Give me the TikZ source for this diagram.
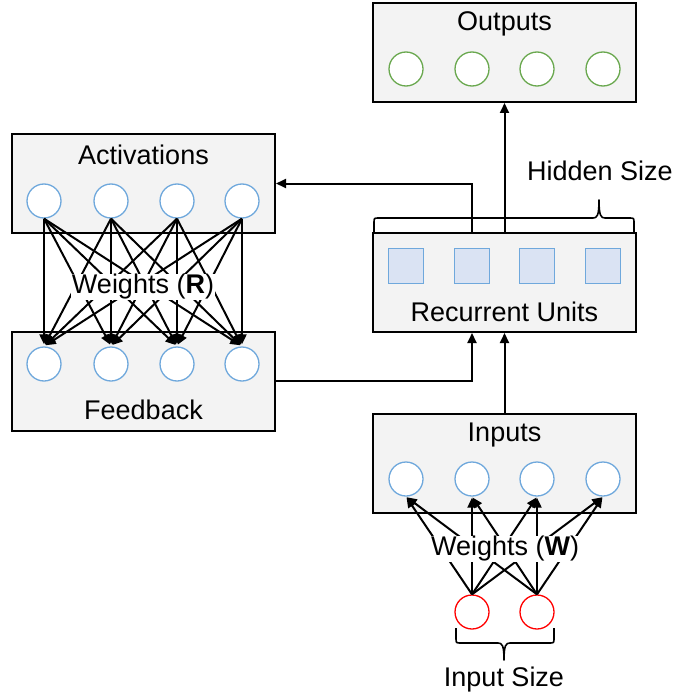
\documentclass[tikz,border=0pt]{standalone}
\usepackage{fontspec}
\setmainfont{Liberation Sans}
\usetikzlibrary{arrows.meta,calc}
\definecolor{boxfill}{HTML}{F3F3F3}
\definecolor{cblue}{HTML}{6FA8DC}
\definecolor{sqfill}{HTML}{DAE3F3}
\definecolor{cgreen}{HTML}{6AA84F}
\definecolor{cred}{HTML}{FF0000}
\begin{document}
\begin{tikzpicture}[x=1pt,y=-1pt,
  every node/.style={font=\fontsize{27}{32}\selectfont},
  panel/.style={draw=black,fill=boxfill,line width=2pt,minimum width=263pt,minimum height=99pt,inner sep=0pt},
  unitc/.style={circle,draw=cblue,fill=white,line width=1.3pt,minimum size=34pt,inner sep=0pt},
  outc/.style={circle,draw=cgreen,fill=white,line width=1.3pt,minimum size=34pt,inner sep=0pt},
  inc/.style={circle,draw=cred,fill=white,line width=1.3pt,minimum size=34pt,inner sep=0pt},
  unitsq/.style={rectangle,draw=cblue,fill=sqfill,line width=1.3pt,minimum size=35pt,inner sep=0pt},
  arr/.style={line width=2pt,-{Triangle[length=10pt,width=9pt]}},
  bracel/.style={line width=1.6pt,line join=round},
  lbl/.style={inner sep=0pt}
]
\useasboundingbox (0,0) rectangle (675,698);
% panels
\node[panel] (act) at (143.5,183.5) {};
\node[panel] (fb) at (143.5,381) {};
\node[panel] (out) at (504.5,52.5) {};
\node[panel] (rec) at (504.5,282.5) {};
\node[panel] (inp) at (504.5,463.5) {};
% titles
\node[lbl] (tact) at (143.5,155) {Activations};
\node[lbl] (tfb) at (143.5,410) {Feedback};
\node[lbl] (tout) at (504.5,24) {Outputs};
\node[lbl] (trec) at (504.5,312) {Recurrent Units};
\node[lbl] (tinp) at (504.5,435) {Inputs};
% units
\foreach \i/\x in {1/44,2/111,3/177,4/242}{
  \node[unitc] (a\i) at (\x,201) {};
  \node[unitc] (f\i) at (\x,364) {};
}
\foreach \i/\x in {1/406,2/472,3/537,4/603}{
  \node[outc] (o\i) at (\x,69) {};
  \node[unitsq] (s\i) at (\x,266) {};
  \node[unitc] (n\i) at (\x,479) {};
}
\node[inc] (r1) at (472,612) {};
\node[inc] (r2) at (537,612) {};
% weights R
\foreach \i in {1,...,4}{
  \foreach \j in {1,...,4}{
    \draw[arr,shorten >=2pt] (a\i.south) -- (f\j.north);
  }
}
\node[lbl,fill=white,inner xsep=1pt,inner ysep=0pt] (wr) at (143,287) {Weights (\textbf{R})};
% weights W
\foreach \i in {1,2}{
  \foreach \j in {1,...,4}{
    \draw[arr,shorten >=1pt] (r\i.north) -- (n\j.south);
  }
}
\node[lbl,fill=white,inner xsep=1pt,inner ysep=0pt] (ww) at (505,549) {Weights (\textbf{W})};
% connectors
\draw[arr] (rec.north) -- (out.south);
\draw[arr] (s2.north |- rec.north) |- (act.east);
\draw[arr] (fb.east) -| (s2.south |- rec.south);
\draw[arr] (inp.north) -- (rec.south);
% braces
\draw[bracel] (374,233) -- (374,223) .. controls (374,218) .. (379,218) -- (593,218)
  .. controls (597,218) and (599,216) .. (599,200)
  .. controls (599,216) and (601,218) .. (605,218) -- (629,218)
  .. controls (634,218) .. (634,223) -- (634,233);
\node[lbl] (hs) at (600,171) {Hidden Size};
\draw[bracel] (456,628) -- (456,638) .. controls (456,643) .. (461,643) -- (498,643)
  .. controls (502,643) and (504,645) .. (504,660)
  .. controls (504,645) and (506,643) .. (510,643) -- (549,643)
  .. controls (554,643) .. (554,638) -- (554,628);
\node[lbl] (is) at (504,680) {Input Size};
\end{tikzpicture}
\end{document}
